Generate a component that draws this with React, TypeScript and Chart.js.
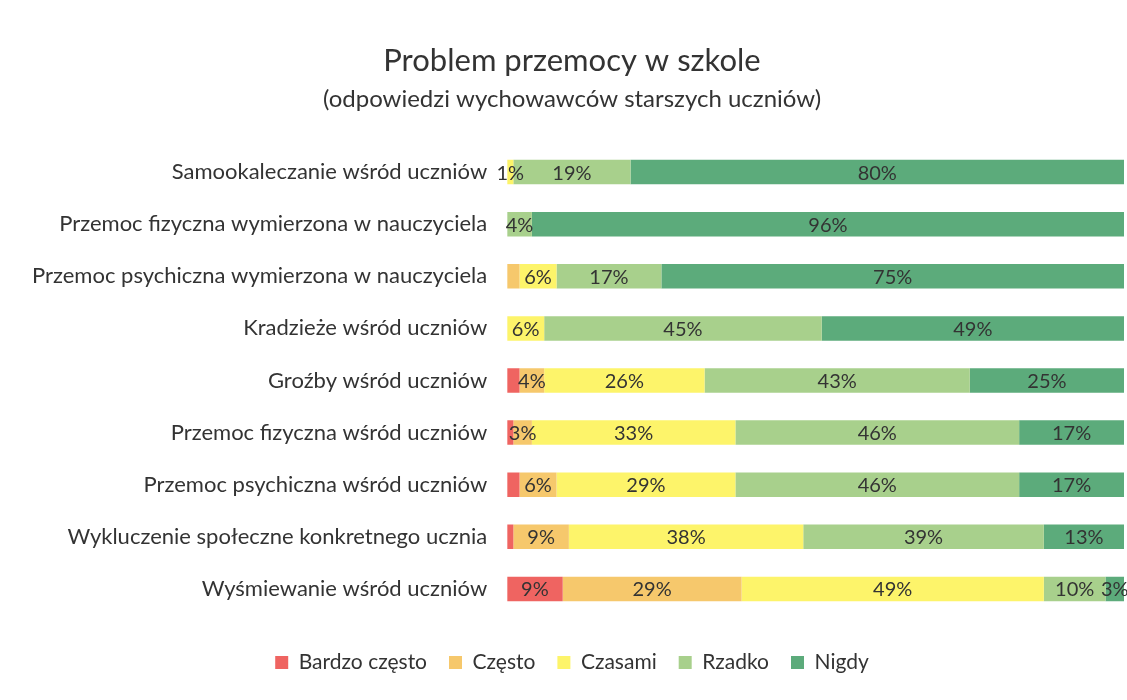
import React, { useEffect, useRef } from "react";
import { Chart, registerables } from "chart.js";

Chart.register(...registerables);

const categories = [
  "Samookaleczanie wśród uczniów",
  "Przemoc fizyczna wymierzona w nauczyciela",
  "Przemoc psychiczna wymierzona w nauczyciela",
  "Kradzieże wśród uczniów",
  "Groźby wśród uczniów",
  "Przemoc fizyczna wśród uczniów",
  "Przemoc psychiczna wśród uczniów",
  "Wykluczenie społeczne konkretnego ucznia",
  "Wyśmiewanie wśród uczniów",
];

const bardzoCzesto = [0, 0, 0, 0, 2, 1, 2, 1, 9];
const czesto = [0, 0, 2, 0, 4, 3, 6, 9, 29];
const czasami = [1, 0, 6, 6, 26, 33, 29, 38, 49];
const rzadko = [19, 4, 17, 45, 43, 46, 46, 39, 10];
const nigdy = [80, 96, 75, 49, 25, 17, 17, 13, 3];

const seriesNames = ["Bardzo często", "Często", "Czasami", "Rzadko", "Nigdy"];
const seriesColors = ["#ef6461", "#f6c86c", "#fdf46a", "#a8d08c", "#5cab7b"];

const FONT = "Lato, 'Open Sans', sans-serif";

const labelPlugin = {
  id: "segLabels",
  afterDatasetsDraw(chart: any) {
    const ctx = chart.ctx;
    ctx.save();
    ctx.font = `20px ${FONT}`;
    ctx.fillStyle = "#333333";
    ctx.textAlign = "center";
    ctx.textBaseline = "middle";
    chart.data.datasets.forEach((ds: any, di: number) => {
      const meta = chart.getDatasetMeta(di);
      meta.data.forEach((el: any, i: number) => {
        const v = ds.data[i];
        if (!v) return;
        if (di < 2 && v < 3) return;
        const cx = (el.x + el.base) / 2;
        ctx.fillText(v + "%", cx, el.y + 1);
      });
    });
    ctx.restore();
  },
};

export default function App() {
  const ref = useRef<HTMLCanvasElement>(null);
  useEffect(() => {
    if (!ref.current) return;
    const data = [bardzoCzesto, czesto, czasami, rzadko, nigdy];
    const chart = new Chart(ref.current, {
      type: "bar",
      data: {
        labels: categories,
        datasets: seriesNames.map((n, k) => ({
          label: n,
          data: data[k],
          backgroundColor: seriesColors[k],
          borderWidth: 0,
          categoryPercentage: 1,
          barPercentage: 0.47,
        })),
      },
      options: {
        indexAxis: "y",
        animation: false,
        responsive: false,
        maintainAspectRatio: false,
        layout: { padding: { left: 20, right: 3, top: 10, bottom: 17 } },
        scales: {
          x: {
            stacked: true,
            min: 0,
            max: 100,
            display: true,
            grid: { display: false },
            border: { display: false },
            ticks: { display: false },
            afterFit: (scale: any) => {
              scale.height = 15;
            },
          },
          y: {
            stacked: true,
            grid: { display: false },
            border: { display: false },
            ticks: {
              color: "#333333",
              font: { family: FONT, size: 22 },
              padding: 12,
              autoSkip: false,
            },
          },
        },
        plugins: {
          tooltip: { enabled: false },
          title: {
            display: true,
            text: "Problem przemocy w szkole",
            color: "#333333",
            font: { family: FONT, size: 31, weight: "normal" },
            padding: { top: 32, bottom: 6 },
          },
          subtitle: {
            display: true,
            text: "(odpowiedzi wychowawców starszych uczniów)",
            color: "#333333",
            font: { family: FONT, size: 24, weight: "normal" },
            padding: { bottom: 32 },
          },
          legend: {
            position: "bottom",
            labels: {
              color: "#333333",
              font: { family: FONT, size: 21 },
              boxWidth: 13,
              boxHeight: 13,
              padding: 22,
            },
          },
        },
      },
      plugins: [labelPlugin],
    });
    return () => chart.destroy();
  }, []);
  return (
    <div style={{ position: "fixed", left: 0, top: 0, width: 1127, height: 700, background: "#fff" }}>
      <canvas ref={ref} width={1127} height={700} style={{ width: 1127, height: 700 }} />
    </div>
  );
}
